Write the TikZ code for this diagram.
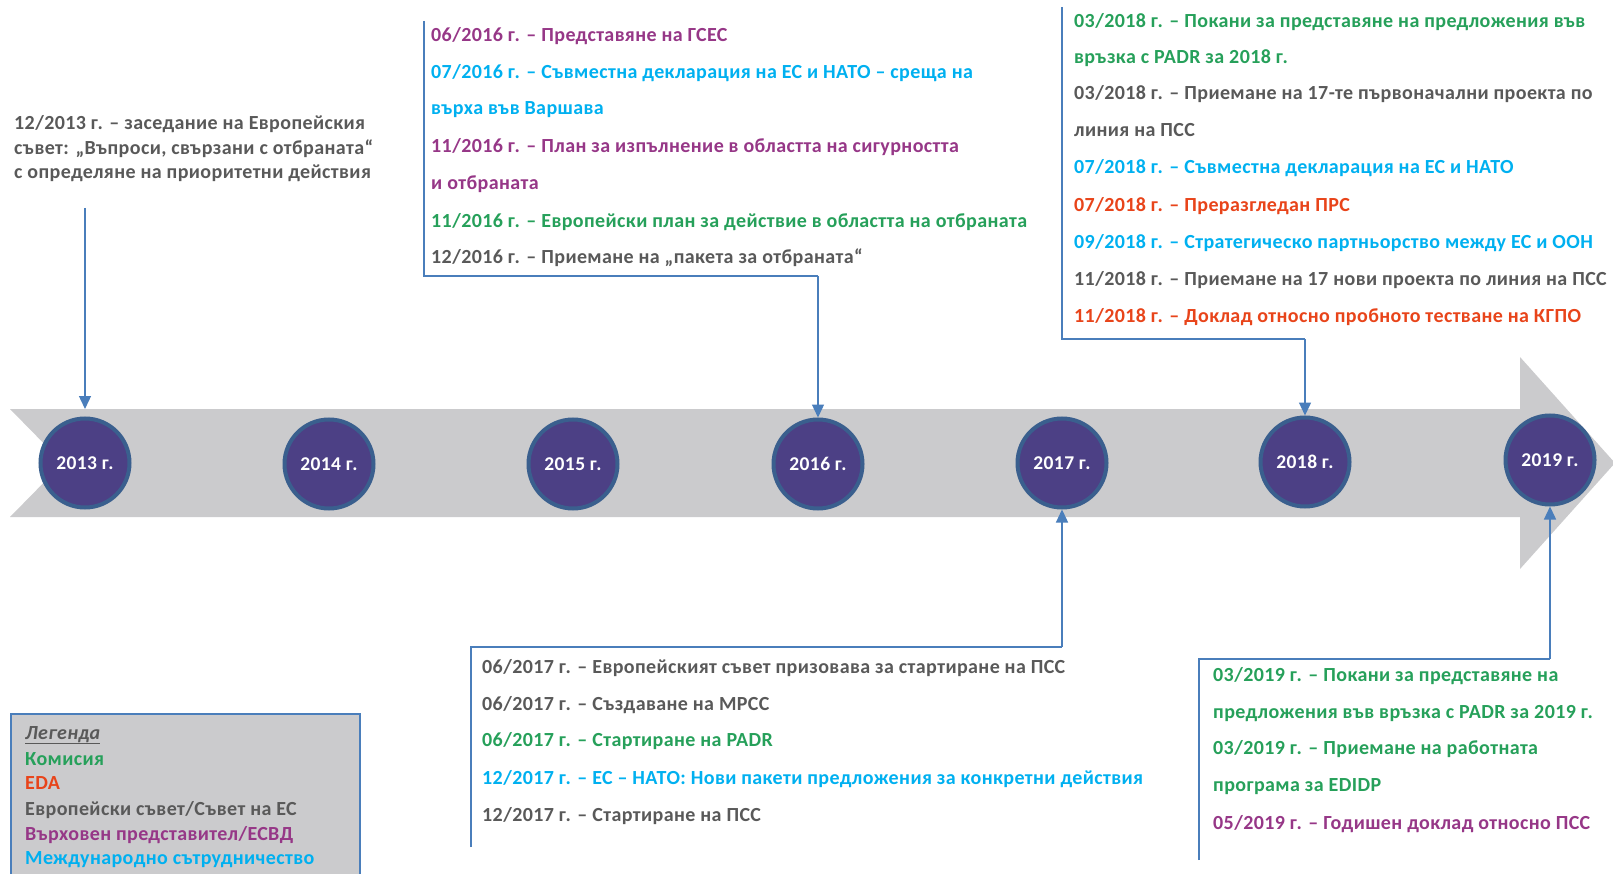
\documentclass[tikz,border=0pt]{standalone}
\usepackage{fontspec}
\setmainfont{Carlito}[LetterSpace=2]
\usetikzlibrary{arrows.meta}
\definecolor{cgreen}{RGB}{38,160,90}
\definecolor{ccyan}{RGB}{0,176,240}
\definecolor{cpurple}{RGB}{150,55,135}
\definecolor{cred}{RGB}{232,68,26}
\definecolor{cgray}{RGB}{89,89,89}
\definecolor{cline}{RGB}{74,126,187}
\definecolor{cband}{RGB}{203,203,205}
\definecolor{cfill}{RGB}{76,64,133}
\definecolor{cring}{RGB}{58,95,142}
\begin{document}
\begin{tikzpicture}[x=1pt,y=-1pt,
  txt/.style={anchor=base west,inner sep=0pt,font=\fontsize{20}{24}\bfseries\selectfont},
  yr/.style={circle,fill=cfill,draw=cring,line width=4pt,minimum size=89pt,inner sep=0pt,text=white,font=\fontsize{19.5}{22}\bfseries\selectfont},
  conn/.style={draw=cline,line width=1.4pt},
  connarr/.style={conn,-{Triangle[length=13pt,width=12pt]}}]
\useasboundingbox (0,0) rectangle (1613,874);
% band arrow
\fill[cband] (10,409) -- (1520,409) -- (1520,357) -- (1615,463) -- (1520,569) -- (1520,517) -- (10,517) -- (63,463) -- cycle;
% year circles
\node[yr] (c2013) at (85,463) {2013 г.};
\node[yr] (c2014) at (329,464) {2014 г.};
\node[yr] (c2015) at (573,464) {2015 г.};
\node[yr] (c2016) at (818,464) {2016 г.};
\node[yr] (c2017) at (1062,463) {2017 г.};
\node[yr] (c2018) at (1305,462) {2018 г.};
\node[yr] (c2019) at (1550,460) {2019 г.};
% 2013
\coordinate (a13) at (85,208);
\coordinate (e13) at (85,409);
\draw[connarr] (a13) -- (e13);
\node[txt,text=cgray] (t13a) at (14,130) {12/2013 г. – заседание на Европейския};
\node[txt,text=cgray] (t13b) at (14,155) {съвет: „Въпроси, свързани с отбраната“};
\node[txt,text=cgray] (t13c) at (14,179) {с определяне на приоритетни действия};
% 2016
\coordinate (b16t) at (424,21);
\coordinate (b16b) at (424,276);
\coordinate (b16r) at (c2016.north |- b16b);
\draw[conn] (b16t) -- (b16b) -- (b16r);
\draw[connarr] (b16r) -- (c2016.north);
\node[txt,text=cpurple] (t16a) at (431,42) {06/2016 г. – Представяне на ГСЕС};
\node[txt,text=ccyan] (t16b) at (431,79) {07/2016 г. – Съвместна декларация на ЕС и НАТО – среща на};
\node[txt,text=ccyan] (t16c) at (431,115) {върха във Варшава};
\node[txt,text=cpurple] (t16d) at (431,153) {11/2016 г. – План за изпълнение в областта на сигурността};
\node[txt,text=cpurple] (t16e) at (431,190) {и отбраната};
\node[txt,text=cgreen] (t16f) at (431,228) {11/2016 г. – Европейски план за действие в областта на отбраната};
\node[txt,text=cgray] (t16g) at (431,264) {12/2016 г. – Приемане на „пакета за отбраната“};
% 2018
\coordinate (b18t) at (1062,7);
\coordinate (b18b) at (1062,339);
\coordinate (b18r) at (c2018.north |- b18b);
\draw[conn] (b18t) -- (b18b) -- (b18r);
\draw[connarr] (b18r) -- (c2018.north);
\node[txt,text=cgreen] (t18a) at (1074,28) {03/2018 г. – Покани за представяне на предложения във};
\node[txt,text=cgreen] (t18b) at (1074,64) {връзка с PADR за 2018 г.};
\node[txt,text=cgray] (t18c) at (1074,100) {03/2018 г. – Приемане на 17-те първоначални проекта по};
\node[txt,text=cgray] (t18d) at (1074,137) {линия на ПСС};
\node[txt,text=ccyan] (t18e) at (1074,174) {07/2018 г. – Съвместна декларация на ЕС и НАТО};
\node[txt,text=cred] (t18f) at (1074,212) {07/2018 г. – Преразгледан ПРС};
\node[txt,text=ccyan] (t18g) at (1074,249) {09/2018 г. – Стратегическо партньорство между ЕС и ООН};
\node[txt,text=cgray] (t18h) at (1074,286) {11/2018 г. – Приемане на 17 нови проекта по линия на ПСС};
\node[txt,text=cred] (t18i) at (1074,323) {11/2018 г. – Доклад относно пробното тестване на КГПО};
% 2017
\coordinate (b17b) at (471,847);
\coordinate (b17t) at (471,647);
\coordinate (b17r) at (c2017.south |- b17t);
\draw[conn] (b17b) -- (b17t) -- (b17r);
\draw[connarr] (b17r) -- (c2017.south);
\node[txt,text=cgray] (t17a) at (482,673) {06/2017 г. – Европейският съвет призовава за стартиране на ПСС};
\node[txt,text=cgray] (t17b) at (482,710) {06/2017 г. – Създаване на МРСС};
\node[txt,text=cgreen] (t17c) at (482,746) {06/2017 г. – Стартиране на PADR};
\node[txt,text=ccyan] (t17d) at (482,784) {12/2017 г. – ЕС – НАТО: Нови пакети предложения за конкретни действия};
\node[txt,text=cgray] (t17e) at (482,821) {12/2017 г. – Стартиране на ПСС};
% 2019
\coordinate (b19b) at (1199,860);
\coordinate (b19t) at (1199,659);
\coordinate (b19r) at (c2019.south |- b19t);
\draw[conn] (b19b) -- (b19t) -- (b19r);
\draw[connarr] (b19r) -- (c2019.south);
\node[txt,text=cgreen] (t19a) at (1213,681) {03/2019 г. – Покани за представяне на};
\node[txt,text=cgreen] (t19b) at (1213,718) {предложения във връзка с PADR за 2019 г.};
\node[txt,text=cgreen] (t19c) at (1213,754) {03/2019 г. – Приемане на работната};
\node[txt,text=cgreen] (t19d) at (1213,791) {програма за EDIDP};
\node[txt,text=cpurple] (t19e) at (1213,829) {05/2019 г. – Годишен доклад относно ПСС};
% legend
\filldraw[fill=cband,draw=cline,line width=1.4pt] (11,714) rectangle (360,880);
\node[txt,text=cgray] (l0) at (25,739) {\itshape\underline{Легенда}};
\node[txt,text=cgreen] (l1) at (25,765) {Комисия};
\node[txt,text=cred] (l2) at (25,789) {EDA};
\node[txt,text=cgray] (l3) at (25,815) {Европейски съвет/Съвет на ЕС};
\node[txt,text=cpurple] (l4) at (25,840) {Върховен представител/ЕСВД};
\node[txt,text=ccyan] (l5) at (25,864) {Международно сътрудничество};
\end{tikzpicture}
\end{document}
